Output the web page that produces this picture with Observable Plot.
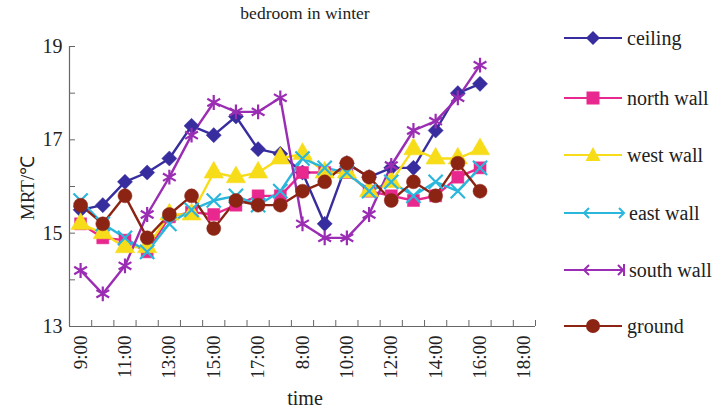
<!DOCTYPE html>
<html><head><meta charset="utf-8">
<script src="https://cdn.jsdelivr.net/npm/d3@7"></script>
<script src="https://cdn.jsdelivr.net/npm/@observablehq/plot@0.6"></script>
<style>
body{margin:0;background:#fff;font-family:"Liberation Serif","Times New Roman",serif;color:#222;}
#wrap{position:relative;width:719px;height:416px;overflow:hidden;}
#chart{position:absolute;left:0;top:0;}
#chart svg, #chart svg text{font-family:"Liberation Serif","Times New Roman",serif !important;}
.lbl{position:absolute;white-space:nowrap;}
#title{left:0;width:610px;top:3px;text-align:center;font-size:17.5px;}
#xlab{left:0;width:610px;top:387px;text-align:center;font-size:20px;}
#ylab{left:27px;top:188px;font-size:19px;transform:translate(-50%,-50%) rotate(-90deg);}
.leg{position:absolute;left:562px;height:22px;display:flex;align-items:center;font-size:20px;}
.leg svg{margin-right:3px;}
</style></head><body>
<div id="wrap">
<div id="chart"></div>
<div id="title" class="lbl">bedroom in winter</div>
<div id="xlab" class="lbl">time</div>
<div id="ylab" class="lbl">MRT/℃</div>
<div id="legend"></div>
</div>
<script>
const times = ["9:00","10:00","11:00","12:00","13:00","14:00","15:00","16:00","17:00","18:00",
  "8:00","9:00","10:00","11:00","12:00","13:00","14:00","15:00","16:00","17:00","18:00"];
const seriesNames = ["ceiling","north wall","west wall","east wall","south wall","ground"];
const ceiling   = [15.5,15.6,16.1,16.3,16.6,17.3,17.1,17.5,16.8,16.7,16.3,15.2,16.5,16.2,16.4,16.4,17.2,18.0,18.2];
const northWall = [15.2,14.9,14.85,14.6,15.35,15.45,15.4,15.6,15.8,15.8,16.3,16.3,16.3,15.9,15.8,15.7,15.8,16.2,16.4];
const westWall  = [15.2,15.0,14.7,14.7,15.4,15.4,16.3,16.2,16.3,16.6,16.7,16.3,16.3,15.9,16.1,16.8,16.6,16.6,16.8];
const eastWall  = [15.7,15.2,14.9,14.6,15.2,15.5,15.7,15.8,15.6,15.9,16.6,16.4,16.3,15.9,16.1,15.8,16.1,15.9,16.4];
const southWall = [14.2,13.7,14.3,15.4,16.2,17.1,17.8,17.6,17.6,17.9,15.2,14.9,14.9,15.4,16.45,17.2,17.4,17.9,18.6];
const ground    = [15.6,15.2,15.8,14.9,15.4,15.8,15.1,15.7,15.6,15.6,15.9,16.1,16.5,16.2,15.7,16.1,15.8,16.5,15.9];
const yTicks = [13,14,15,16,17,18,19];
const yLabels = [13,15,17,19];

const valuesBySeries = [ceiling, northWall, westWall, eastWall, southWall, ground];
const styles = [
  {color:"#382d9e", symbol:"diamond2", r:6.8, fill:true},
  {color:"#e8288e", symbol:"square", r:6.8, fill:true},
  {color:"#f7dc1a", symbol:"triangle", r:7.2, fill:true},
  {color:"#2bb7dc", symbol:"times", r:6.5, fill:false},
  {color:"#9a2db3", symbol:"asterisk", r:7, fill:false},
  {color:"#8c2414", symbol:"circle", r:7, fill:true}
];

const marks = [
  Plot.ruleY([yTicks[0]], {stroke:"#666", strokeWidth:1.2}),
  Plot.ruleX([-0.5], {stroke:"#666", strokeWidth:1.2}),
  Plot.axisY({ticks: yTicks, tickSize: -6, tickFormat: () => "", stroke:"#666", label: null}),
  Plot.axisY({ticks: yLabels, tickSize: 0, tickPadding: 7, fontSize: 20, label: null, fill:"#222", tickFormat: d => String(d)}),
  Plot.axisX({ticks: d3.range(-0.5, times.length, 1), tickSize: -6, tickFormat: () => "", stroke:"#666", label: null}),
  Plot.axisX({ticks: d3.range(0, times.length, 2), tickSize: 0, tickPadding: 9, tickRotate: -90,
     tickFormat: i => times[i], fontSize: 19, label: null, fill:"#222"})
];

valuesBySeries.forEach((vals, s) => {
  const st = styles[s];
  const data = vals.map((v, i) => ({i, v}));
  marks.push(Plot.line(data, {x:"i", y:"v", stroke: st.color, strokeWidth: 2.4}));
});
valuesBySeries.forEach((vals, s) => {
  const st = styles[s];
  const data = vals.map((v, i) => ({i, v}));
  marks.push(Plot.dot(data, {x:"i", y:"v", symbol: st.symbol, r: st.r,
    fill: st.fill ? st.color : "none", stroke: st.color, strokeWidth: st.fill ? 0.5 : 2.2}));
});

const chart = Plot.plot({
  width: 719, height: 416,
  marginLeft: 69, marginRight: 184, marginTop: 46, marginBottom: 90,
  style: {fontFamily: '"Liberation Serif","Times New Roman",serif', background: "#fff", color:"#222"},
  x: {type: "linear", domain: [-0.5, times.length - 0.5], axis: null},
  y: {domain: [13, 19], axis: null},
  marks
});
document.getElementById("chart").appendChild(chart);

// legend
const legTops = [27, 87, 144, 202, 259, 315];
const leg = document.getElementById("legend");
seriesNames.forEach((name, s) => {
  const st = styles[s];
  const div = document.createElement("div");
  div.className = "leg";
  div.style.top = legTops[s] + "px";
  const c = st.color;
  let sym = "";
  if (st.symbol === "diamond2") sym = `<path d="M31,4 L38,11 L31,18 L24,11Z" fill="${c}"/>`;
  else if (st.symbol === "square") sym = `<rect x="24.5" y="4.5" width="13" height="13" fill="${c}"/>`;
  else if (st.symbol === "triangle") sym = `<path d="M31,3 L38.5,17 L23.5,17Z" fill="${c}"/>`;
  else if (st.symbol === "circle") sym = `<circle cx="31" cy="11" r="7" fill="${c}"/>`;
  else if (st.symbol === "times") sym = `<path d="M27,6 L22,11 L27,16 M57,6 L62,11 L57,16" fill="none" stroke="${c}" stroke-width="2"/>`;
  else sym = `<path d="M27,6 L22,11 L27,16 M56,6 L61,11 L56,16 M62,5 L62,17" fill="none" stroke="${c}" stroke-width="2"/>`;
  const len = (st.symbol === "times" || st.symbol === "asterisk") ? 62 : 60;
  div.innerHTML = `<svg width="${len + 2}" height="22"><line x1="2" y1="11" x2="${len}" y2="11" stroke="${c}" stroke-width="2"/>${sym}</svg><span>${name}</span>`;
  leg.appendChild(div);
});
</script>
</body></html>
